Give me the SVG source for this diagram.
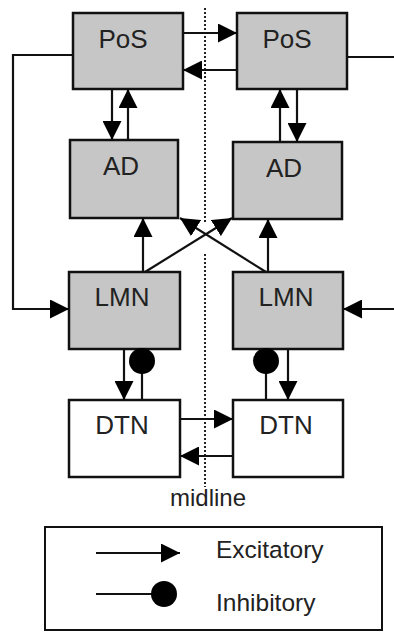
<svg xmlns="http://www.w3.org/2000/svg" width="394" height="633" viewBox="0 0 394 633">
<defs>
<style>
.box{stroke:#111;stroke-width:2.5}
.g{fill:#c6c6c6}
.w{fill:#fff}
.lbl{font-family:"Liberation Sans",Arial,sans-serif;font-size:26px;fill:#222;text-anchor:middle}
.leg{font-family:"Liberation Sans",Arial,sans-serif;font-size:24.5px;fill:#222}
.c{fill:none;stroke:#111;stroke-width:2.2}
.ex{marker-end:url(#arr)}
.dot{fill:#000}
</style>
<marker id="arr" markerUnits="userSpaceOnUse" markerWidth="19" markerHeight="19" refX="19" refY="9.5" orient="auto">
<path d="M0,0 L19,9.5 L0,19 Z" fill="#000"/>
</marker>
</defs>
<rect width="394" height="633" fill="#fff"/>
<path d="M205,8 V222 M205,254 V487" fill="none" stroke="#222" stroke-width="2" stroke-dasharray="2 2"/>
<g id="pos-left"><rect class="box g" x="73" y="13" width="110" height="76"/><text class="lbl" x="123" y="48">PoS</text></g>
<g id="pos-right"><rect class="box g" x="237" y="13" width="110" height="76"/><text class="lbl" x="287" y="48">PoS</text></g>
<g id="ad-left"><rect class="box g" x="70" y="140" width="108" height="78"/><text class="lbl" x="121" y="175">AD</text></g>
<g id="ad-right"><rect class="box g" x="233" y="142" width="109" height="77"/><text class="lbl" x="284" y="177">AD</text></g>
<g id="lmn-left"><rect class="box g" x="69" y="272" width="111" height="77"/><text class="lbl" x="122" y="306">LMN</text></g>
<g id="lmn-right"><rect class="box g" x="233" y="272" width="110" height="77"/><text class="lbl" x="286" y="306">LMN</text></g>
<g id="dtn-left"><rect class="box w" x="69" y="400" width="111" height="77"/><text class="lbl" x="122" y="434">DTN</text></g>
<g id="dtn-right"><rect class="box w" x="233" y="400" width="110" height="77"/><text class="lbl" x="286" y="434">DTN</text></g>
<g id="connectors">
<path class="c ex" d="M183,33 H237"/>
<path class="c ex" d="M237,70 H183"/>
<path class="c ex" d="M73,55 H13 V309 H69"/>
<path class="c" d="M347,57 H394"/>
<path class="c ex" d="M394,309 H343"/>
<path class="c ex" d="M112,89 V140"/>
<path class="c ex" d="M128,140 V89"/>
<path class="c ex" d="M280,142 V89"/>
<path class="c ex" d="M297,89 V142"/>
<path class="c ex" d="M143,272 V218"/>
<path class="c ex" d="M268,272 V219"/>
<path class="c ex" d="M145,272 L232,218"/>
<path class="c ex" d="M266,272 L180,218"/>
<path class="c ex" d="M124,349 V400"/>
<path class="c" d="M142,400 V361"/><circle class="dot" cx="142" cy="361" r="13"/>
<path class="c" d="M266,400 V361"/><circle class="dot" cx="266" cy="361" r="13"/>
<path class="c ex" d="M288,349 V400"/>
<path class="c ex" d="M180,419 H233"/>
<path class="c ex" d="M233,456 H180"/>
</g>
<text class="leg" x="208" y="506" text-anchor="middle" style="font-size:24px">midline</text>
<g id="legend">
<rect x="45" y="527" width="337" height="103" fill="none" stroke="#111" stroke-width="2"/>
<path class="c ex" d="M96,553 H180"/>
<text class="leg" x="216" y="558">Excitatory</text>
<path class="c" d="M96,594 H164"/><circle class="dot" cx="164" cy="594" r="13"/>
<text class="leg" x="216" y="611">Inhibitory</text>
</g>
</svg>
